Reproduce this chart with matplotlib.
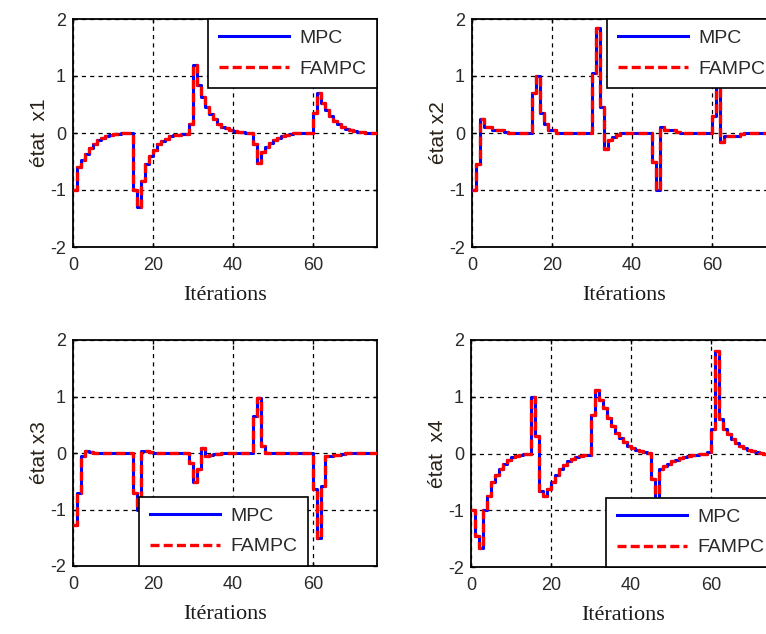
import matplotlib
matplotlib.use("Agg")
import matplotlib.pyplot as plt

plt.rcParams["lines.scale_dashes"] = False
plt.rcParams["axes.unicode_minus"] = False

# iteration index
iterations = list(range(0, 77))

# state trajectories (same for both controllers, FAMPC overlays MPC)
x1 = [-1.0, -0.6, -0.47, -0.37, -0.27, -0.19, -0.13, -0.08, -0.05, -0.03,
      -0.02, -0.01, 0.0, 0.0, 0.0, -1.0, -1.3, -0.85, -0.55, -0.4,
      -0.3, -0.2, -0.14, -0.1, -0.06, -0.04, -0.03, -0.02, -0.01, 0.15,
      1.2, 0.85, 0.64, 0.46, 0.33, 0.24, 0.16, 0.11, 0.08, 0.05,
      0.04, 0.02, 0.01, 0.0, 0.0, -0.2, -0.52, -0.34, -0.25, -0.18,
      -0.12, -0.08, -0.05, -0.03, -0.01, 0.0, 0.0, 0.0, 0.0, 0.0,
      0.35, 0.7, 0.52, 0.4, 0.29, 0.21, 0.15, 0.1, 0.07, 0.05,
      0.03, 0.02, 0.01, 0.0, 0.0, 0.0, 0.0]

x2 = [-1.0, -0.55, 0.25, 0.1, 0.1, 0.05, 0.05, 0.05, 0.02, 0.0,
      0.0, 0.0, 0.0, 0.0, 0.0, 0.7, 1.0, 0.35, 0.15, 0.05,
      0.05, 0.0, 0.0, 0.0, 0.0, 0.0, 0.0, 0.0, 0.0, 0.0,
      1.05, 1.85, 0.45, -0.28, -0.13, -0.07, -0.03, 0.0, 0.0, 0.0,
      0.0, 0.0, 0.0, 0.0, 0.0, -0.5, -1.0, 0.1, 0.05, 0.05,
      0.05, 0.02, 0.0, 0.0, 0.0, 0.0, 0.0, 0.0, 0.0, 0.0,
      0.3, 1.0, -0.15, -0.05, -0.05, -0.05, -0.05, -0.02, 0.0, 0.0,
      0.0, 0.0, 0.0, 0.0, 0.0, 0.0, 0.0]

x3 = [-1.28, -0.7, -0.05, 0.04, 0.02, 0.0, 0.0, 0.0, 0.0, 0.0,
      0.0, 0.0, 0.0, 0.0, 0.0, -0.7, -1.0, 0.04, 0.04, 0.02,
      0.0, 0.0, 0.0, 0.0, 0.0, 0.0, 0.0, 0.0, 0.0, -0.17,
      -0.52, -0.29, 0.09, -0.05, -0.03, -0.02, -0.01, 0.0, 0.0, 0.0,
      0.0, 0.0, 0.0, 0.0, 0.0, 0.65, 0.97, 0.12, 0.0, 0.0,
      0.0, 0.0, 0.0, 0.0, 0.0, 0.0, 0.0, 0.0, 0.0, 0.0,
      -0.64, -1.5, -0.58, -0.05, -0.05, -0.04, -0.03, -0.01, 0.0, 0.0,
      0.0, 0.0, 0.0, 0.0, 0.0, 0.0, 0.0]

x4 = [-1.0, -1.46, -1.67, -1.0, -0.75, -0.51, -0.38, -0.27, -0.18, -0.12,
      -0.07, -0.04, -0.02, -0.01, 0.0, 1.0, 0.3, -0.66, -0.75, -0.63,
      -0.5, -0.38, -0.28, -0.2, -0.14, -0.1, -0.07, -0.05, -0.03, -0.02,
      0.68, 1.12, 0.95, 0.8, 0.62, 0.48, 0.37, 0.28, 0.2, 0.14,
      0.1, 0.07, 0.05, 0.03, 0.01, -0.45, -0.95, -0.27, -0.22, -0.18,
      -0.14, -0.11, -0.08, -0.06, -0.04, -0.03, -0.02, -0.01, 0.0, 0.02,
      0.44, 1.81, 0.6, 0.44, 0.34, 0.26, 0.19, 0.14, 0.1, 0.06,
      0.04, 0.02, 0.01, 0.0, 0.0, 0.0, 0.0]

states = [x1, x2, x3, x4]
ylabels = ["état  x1", "état x2", "état x3", "état  x4"]
series_names = ["MPC", "FAMPC"]
xticks = [0, 20, 40, 60]
yticks = [-2, -1, 0, 1, 2]

fig = plt.figure(figsize=(7.66, 6.34), dpi=100)
W, H = 766, 634

def rect(l, t, r, b):
    return [l / W, 1 - b / H, (r - l) / W, (b - t) / H]

rects = [rect(73, 19, 377, 247), rect(472, 19, 776, 247),
         rect(73, 340, 377, 566), rect(471, 340, 775, 567)]
legend_anchor = [("upper left", (0.444, 1.0)), ("upper left", (0.444, 1.0)),
                 ("lower left", (0.217, 0.0)), ("lower left", (0.444, 0.0))]

tick_font = dict(family="Liberation Sans", size=13, color="#2a2a2a")

for i, ax_rect in enumerate(rects):
    ax = fig.add_axes(ax_rect)
    y = states[i]
    ax.plot(iterations, y, drawstyle="steps-post", color="#0000ff",
            lw=2.2, label=series_names[0], zorder=3)
    ax.plot(iterations, y, drawstyle="steps-post", color="#ff0000",
            lw=2.4, dashes=(6.5, 3.0), label=series_names[1], zorder=4)
    ax.set_xlim(0, 76)
    ax.set_ylim(-2, 2)
    ax.set_xticks(xticks)
    ax.set_yticks(yticks)
    ax.grid(True, color="black", lw=0.9, dashes=(3.0, 3.0))
    ax.set_axisbelow(True)
    ax.tick_params(direction="in", length=3, width=1.0, top=True, right=True,
                   pad=7)
    ax.tick_params(axis="y", pad=5)
    for lab in ax.get_xticklabels() + ax.get_yticklabels():
        lab.set_fontfamily(tick_font["family"])
        lab.set_fontsize(tick_font["size"])
        lab.set_color(tick_font["color"])
    for sp in ax.spines.values():
        sp.set_linewidth(1.3)
        sp.set_color("black")
    ax.set_xlabel("Itérations", family="Liberation Serif", fontsize=16,
                  color="#1a1a1a", labelpad=9)
    ax.set_ylabel(ylabels[i], family="Liberation Sans", fontsize=15,
                  color="#2a2218", labelpad=1)
    loc, anchor = legend_anchor[i]
    leg = ax.legend(loc=loc, bbox_to_anchor=anchor, borderaxespad=0.0,
                    prop=dict(family="Liberation Sans", size=14),
                    handlelength=3.6, handletextpad=0.55, labelspacing=0.65,
                    borderpad=0.55, fancybox=False, framealpha=1.0)
    leg.get_frame().set_edgecolor("black")
    leg.get_frame().set_linewidth(1.2)
    leg.set_zorder(10)
    for t in leg.get_texts():
        t.set_color("#2a2a2a")

fig.savefig("out.png", dpi=100, facecolor="white")
